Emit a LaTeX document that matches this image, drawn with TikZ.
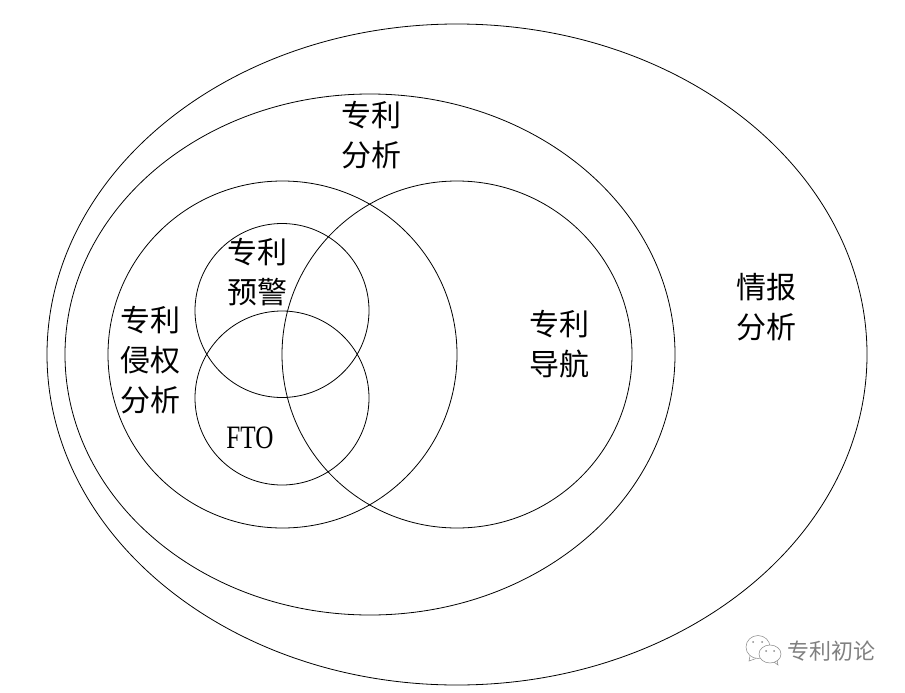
\documentclass[tikz,border=0pt]{standalone}
\usepackage{fontspec}
\newfontfamily\cjk{Noto Sans CJK SC}
\newfontfamily\etroit[FakeStretch=0.77]{Liberation Serif}
\def\largeur{905}
\def\hauteur{692}
\tikzset{
  trait/.style={line width=0.6pt, black},
  titre/.style={font=\cjk\fontsize{22.5}{30}\selectfont, align=center, inner sep=0pt},
  marque/.style={line width=0.4pt, black!45!white},
}

\begin{document}
\begin{tikzpicture}[x=0.75pt, y=-0.75pt]
\useasboundingbox (0,0) rectangle (\largeur,\hauteur);
% ellipses
\draw[trait] (457,354.5) ellipse [x radius=410, y radius=330.5];
\draw[trait] (370,354.5) ellipse [x radius=305, y radius=260.5];
\draw[trait] (282.5,354.5) ellipse [x radius=174.5, y radius=173.5];
\draw[trait] (457,354.5) ellipse [x radius=175, y radius=173.5];
\draw[trait] (282,310.5) circle [radius=87];
\draw[trait] (282,398) circle [radius=87];
% labels
\node[titre] (analyse) at (371,135) {专利\\分析};
\node[titre] (alerte) at (257,272) {专利\\预警};
\node[titre] (contrefacon) at (150,360) {专利\\侵权\\分析};
\node[titre] (navigation) at (559,344) {专利\\导航};
\node[titre] (info) at (766,307) {情报\\分析};
\node[font=\etroit\fontsize{24.5}{28}\selectfont, inner sep=0pt] (fto) at (250,438) {FTO};
% watermark
\draw[marque] (758,647) ellipse [x radius=12, y radius=11.5];
\draw[marque] (750,656) -- (749,661) -- (756,658.5);
\draw[marque, fill=white] (770,654) ellipse [x radius=11, y radius=9];
\draw[marque] (774,662) -- (778,665) -- (777,660);
\foreach \cx/\cy in {753/642, 762/642, 766/651, 774/651}
  \fill[black!45!white] (\cx,\cy) circle [radius=1];
\node[font=\cjk\fontsize{16.5}{20}\selectfont, text=black!50!white, inner sep=0pt] (marque) at (831,651) {专利初论};
\end{tikzpicture}
\end{document}
